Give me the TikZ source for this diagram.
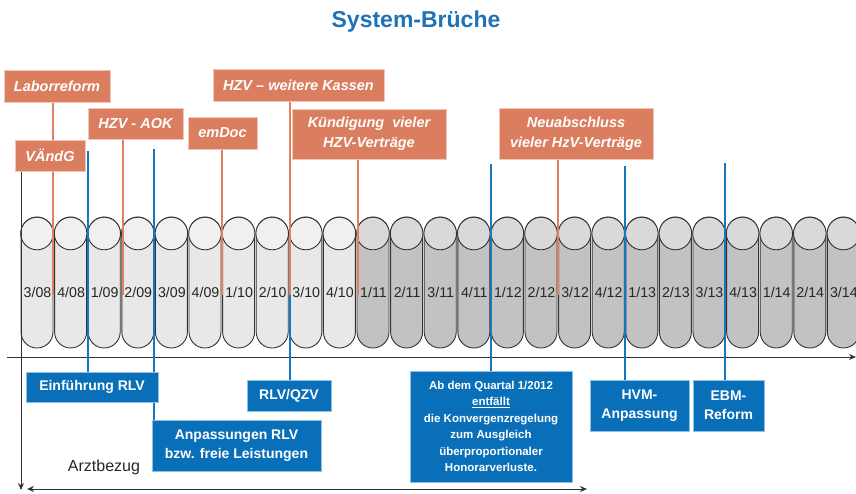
\documentclass[tikz,border=0pt]{standalone}
\usepackage{fontspec}
\setmainfont{Liberation Sans}
\usetikzlibrary{arrows.meta}
\definecolor{titleblue}{HTML}{1F72B8}
\definecolor{obox}{HTML}{DB7D5F}
\definecolor{oborder}{HTML}{F2C6B6}
\definecolor{oline}{HTML}{DE8062}
\definecolor{bbox}{HTML}{0A6FB9}
\definecolor{bborder}{HTML}{8CC0E6}
\definecolor{bline}{HTML}{1577C2}
\definecolor{cylA}{HTML}{E8E8E8}
\definecolor{cylAtop}{HTML}{F0F0F0}
\definecolor{cylB}{HTML}{C2C2C2}
\definecolor{cylBtop}{HTML}{D9D9D9}
\begin{document}
\begin{tikzpicture}[x=1pt,y=-1pt,
  orangebox/.style={fill=obox, draw=oborder, line width=1pt, text=white,
    font=\fontsize{14.5}{20}\selectfont\bfseries\itshape, align=center, inner sep=0pt},
  bluebox/.style={fill=bbox, draw=bborder, line width=1pt, text=white,
    font=\fontsize{14}{19}\selectfont\bfseries, align=center, inner sep=0pt},
  oconn/.style={draw=oline, line width=2pt},
  bconn/.style={draw=bline, line width=2pt},
  cylbody/.style={draw=black!80, line width=0.9pt, rounded corners=16pt},
  cyltop/.style={draw=black!80, line width=0.9pt},
  cyllabel/.style={font=\fontsize{14.2}{16}\selectfont, inner sep=0pt, text=black!85},
  blackarrow/.style={draw=black!80, line width=1pt, -{Stealth[length=7pt,width=6pt]}},
]
\useasboundingbox (0,0) rectangle (856,493);

% title
\node[font=\fontsize{23}{27}\selectfont\bfseries, text=titleblue] (title) at (416,22) {System-Brüche};

% cylinders
\foreach \q/\yy [count=\i from 0] in {3/08,4/08,1/09,2/09,3/09,4/09,1/10,2/10,3/10,4/10,1/11,2/11,3/11,4/11,1/12,2/12,3/12,4/12,1/13,2/13,3/13,4/13,1/14,2/14,3/14}{
  \pgfmathsetmacro{\xx}{21+33.6*\i}
  \ifnum\i<10 \def\cf{cylA}\def\ct{cylAtop}\else\def\cf{cylB}\def\ct{cylBtop}\fi
  \path[cylbody, fill=\cf] (\xx,217) rectangle ++(32,131);
  \path[cyltop, fill=\ct] (\xx+16,233.5) circle[radius=16.3pt];
  \node[cyllabel] (c\i) at (\xx+16.5,292) {\q/\yy};
}

% axes
\coordinate (axL) at (7,357);
\coordinate (axR) at (856,357);
\draw[blackarrow] (axL) -- (axR);
\coordinate (ax) at (21,490);
\coordinate (arzL) at (27,489);
\coordinate (arzR) at (587,489);
\draw[draw=black!80, line width=1pt, {Stealth[length=7pt,width=6pt]}-{Stealth[length=7pt,width=6pt]}] (arzL) -- (arzR);
\node[font=\fontsize{16}{18}\selectfont, text=black!85] (arzt) at (104,467) {Arztbezug};

% connector end points
\coordinate (ol1) at (53,295);
\coordinate (ol2) at (122.5,295);
\coordinate (ol3) at (222,295);
\coordinate (ol4) at (290,295);
\coordinate (ol5) at (357.5,295);
\coordinate (ol6) at (558,295);
\coordinate (bl1) at (88,151);
\coordinate (bl2) at (154,149);
\coordinate (bl4) at (491,164);
\coordinate (bl5) at (625,166);
\coordinate (bl6) at (725,163);

% nodes
\path
  node[orangebox, minimum width=106pt, minimum height=32pt] (labor) at (57,86) {Laborreform}
  node[orangebox, minimum width=171pt, minimum height=32pt] (hzvk) at (298.5,85) {HZV – weitere Kassen}
  node[orangebox, minimum width=95pt, minimum height=31pt] (aok) at (135.5,123.5) {HZV - AOK}
  node[orangebox, minimum width=69pt, minimum height=32pt] (emdoc) at (222.5,133) {emDoc}
  node[orangebox, minimum width=154pt, minimum height=50pt] (kuend) at (369,134) {Kündigung\ \ vieler\\HZV-Verträge}
  node[orangebox, minimum width=154pt, minimum height=51pt] (neu) at (576,133.5) {Neuabschluss\\vieler HzV-Verträge}
  node[orangebox, minimum width=70pt, minimum height=31pt] (vaendg) at (50,155.5) {VÄndG}
  node[bluebox, minimum width=132pt, minimum height=30pt] (einf) at (92,387) {Einführung RLV}
  node[bluebox, minimum width=84pt, minimum height=31pt] (rlv) at (289,395.5) {RLV/QZV}
  node[bluebox, minimum width=169pt, minimum height=51pt] (anp) at (236.5,445.5) {Anpassungen RLV\\bzw. freie Leistungen}
  node[bluebox, minimum width=162pt, minimum height=111pt, font=\fontsize{11.5}{16.5}\selectfont\bfseries] (abdem) at (491,426.5)
     {Ab dem Quartal 1/2012\\\underline{entfällt}\\die Konvergenzregelung\\zum Ausgleich\\überproportionaler\\Honorarverluste.}
  node[bluebox, minimum width=99pt, minimum height=51pt] (hvm) at (639.5,405.5) {HVM-\\Anpassung}
  node[bluebox, minimum width=71pt, minimum height=51pt] (ebm) at (728.5,405.5) {EBM-\\Reform};

% connectors
\draw[blackarrow] (vaendg.south -| ax) -- (ax);
\draw[oconn] (labor.south -| ol1) -- (ol1);
\draw[oconn] (aok.south -| ol2) -- (ol2);
\draw[oconn] (emdoc.south -| ol3) -- (ol3);
\draw[oconn] (hzvk.south -| ol4) -- (ol4);
\draw[oconn] (kuend.south -| ol5) -- (ol5);
\draw[oconn] (neu.south -| ol6) -- (ol6);
\draw[bconn] (bl1) -- (bl1 |- einf.north);
\draw[bconn] (bl2) -- (bl2 |- anp.north);
\draw[bconn] (ol4) -- (ol4 |- rlv.north);
\draw[bconn] (bl4) -- (bl4 |- abdem.north);
\draw[bconn] (bl5) -- (bl5 |- hvm.north);
\draw[bconn] (bl6) -- (bl6 |- ebm.north);

% redraw boxes that connectors pass behind
\path
  node[orangebox, minimum width=106pt, minimum height=32pt] (labor2) at (labor) {Laborreform}
  node[orangebox, minimum width=171pt, minimum height=32pt] (hzvk2) at (hzvk) {HZV – weitere Kassen}
  node[orangebox, minimum width=154pt, minimum height=50pt] (kuend2) at (kuend) {Kündigung\ \ vieler\\HZV-Verträge}
  node[orangebox, minimum width=70pt, minimum height=31pt] (vaendg2) at (vaendg) {VÄndG}
  node[bluebox, minimum width=132pt, minimum height=30pt] (einf2) at (einf) {Einführung RLV}
  node[bluebox, minimum width=169pt, minimum height=51pt] (anp2) at (anp) {Anpassungen RLV\\bzw. freie Leistungen};
\end{tikzpicture}
\end{document}
